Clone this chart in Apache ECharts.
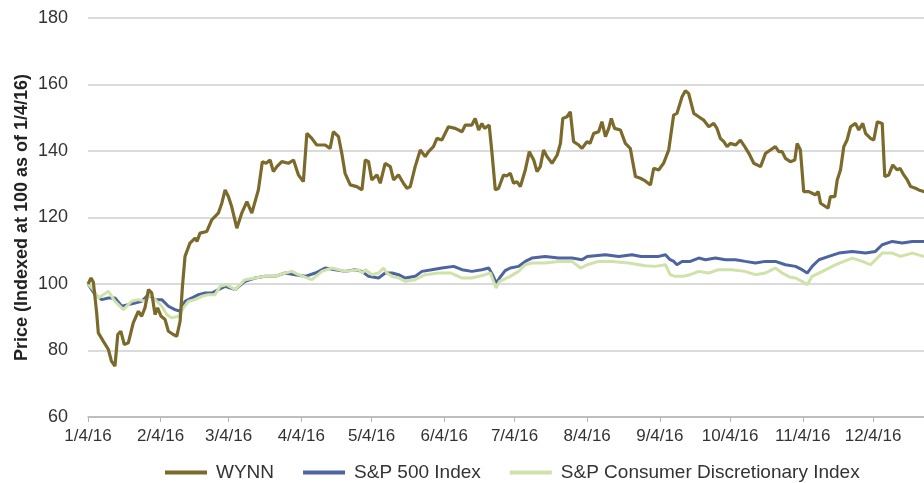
<!DOCTYPE html>
<html>
<head>
<meta charset="utf-8">
<script src="https://cdn.jsdelivr.net/npm/echarts@6/dist/echarts.min.js"></script>
<style>
  html, body { margin: 0; padding: 0; background: #fff; }
  #chart { width: 924px; height: 483px; }
</style>
</head>
<body>
<div id="chart"></div>
<script>
// x positions are days counted from 1/4/16
const lastDay = 361;
const tickDays = [0, 31, 60, 91, 121, 152, 182, 213, 244, 274, 305, 335];
const tickLabels = ['1/4/16', '2/4/16', '3/4/16', '4/4/16', '5/4/16', '6/4/16',
  '7/4/16', '8/4/16', '9/4/16', '10/4/16', '11/4/16', '12/4/16'];

const wynnDays = [0, 1.3, 2.3, 3.7, 4.4, 6.5, 8.7, 10, 11.5, 12.7, 14, 15.5, 17.2, 19.3, 21.5, 22.9, 24.3, 25.8,
  27.2, 28.6, 29.7, 31.2, 32.9, 34.3, 36.4, 37.9, 39.3, 40.3, 41.4, 43.5, 45.7, 46.5, 47.8, 50.7, 52.8, 55.6,
  57.1, 58.5, 59.9, 61.3, 63.5, 65.6, 67.8, 69.9, 72.7, 74.4, 76, 77.7, 79.1, 80.6, 82.7, 85.5, 87.7, 89.8,
  91.9, 93.4, 95.5, 97.6, 101.2, 103.3, 104.7, 106.9, 108.3, 109.7, 111.9, 114.7, 116.9, 118.3, 119.7, 121.1,
  123.3, 124.7, 126.8, 129, 130.4, 132.5, 134.6, 136.1, 137.5, 139.6, 141.8, 143.9, 145.3, 147.4, 148.9, 151,
  153.8, 156.7, 159.6, 161, 163.8, 165.2, 166.7, 168.1, 169.2, 171.2, 172.4, 173.8, 175.2, 177.3, 178.6, 180.2,
  181.6, 183, 184.5, 186.6, 188.3, 190.2, 191.6, 193, 194.4, 195.9, 198, 200.2, 201.6, 202.6, 204.4, 205.8,
  207.2, 209.4, 210.8, 212.9, 214.2, 215.8, 217.9, 219.3, 220.8, 222.2, 223.3, 224.7, 227.2, 229.3, 231.4,
  233.6, 235.7, 237.8, 240, 241.4, 243.5, 245.6, 247.8, 249.9, 251.3, 253.5, 254.9, 256.3, 258.5, 260.6, 262.7,
  264.9, 267, 268.4, 269.8, 271.3, 272.7, 274.1, 276.3, 278.4, 279.8, 282, 284.1, 287, 289.1, 291.2, 293.3,
  294.8, 296.2, 297.6, 299.7, 301.6, 302.6, 304, 305.4, 307.6, 309, 310.4, 311.6, 312.6, 314.7, 315.8, 316.8,
  318.7, 319.7, 321.1, 322.5, 323.9, 325.4, 327.5, 328.9, 330.6, 331.8, 333.9, 335.3, 336.8, 338.9, 340, 341.7,
  343.4, 345.3, 346.5, 348.1, 349.6, 351, 353.1, 354.5, 356.6, 361];
const wynnValues = [100, 101.8, 100.5, 91.3, 85.3, 82.8, 80.3, 76.8, 75.3, 84.8, 85.8, 81.8, 82.3, 88.3, 91.8,
  90.3, 92.8, 98.3, 97.3, 90.8, 92.8, 90.3, 89.3, 85.8, 84.8, 84.3, 88.8, 99.3, 108.3, 112.3, 113.8, 112.8,
  115.3, 115.8, 119.3, 121.3, 124.3, 128.3, 126.3, 123.3, 116.8, 121.3, 124.8, 121.3, 128.3, 136.8, 136.3,
  137.3, 133.8, 135.3, 136.8, 136.3, 137.3, 132.8, 130.8, 145.3, 143.8, 141.8, 141.8, 140.8, 145.8, 144.3,
  139.3, 133.3, 129.8, 129.3, 128.3, 137.3, 136.8, 131.3, 132.8, 130.3, 136.3, 135.3, 131.3, 132.8, 130.3,
  128.8, 129.3, 135.3, 140.3, 138.3, 139.8, 141.3, 143.8, 143.3, 147.3, 146.8, 145.8, 147.8, 147.8, 149.8,
  146.3, 148.3, 146.8, 147.8, 139.3, 128.3, 128.8, 132.8, 132.5, 133.3, 130.3, 130.8, 129.3, 134.3, 139.8,
  137.3, 133.8, 135.3, 140.3, 138.3, 136.3, 138.8, 142.3, 149.8, 150.3, 151.8, 142.8, 141.8, 140.8, 142.8,
  142.3, 145.3, 145.8, 148.8, 144.3, 146.8, 149.8, 146.8, 146.3, 142.3, 140.8, 132.3, 131.8, 131, 129.8,
  134.8, 134.3, 136.3, 140.3, 150.8, 151.3, 156.3, 158.1, 157.3, 151.3, 150.3, 149.3, 147.3, 148.3, 146.8,
  143.8, 142.8, 141.3, 142.3, 141.8, 143.3, 141.8, 139.3, 136.3, 135.3, 139.3, 140.3, 141.3, 139.8, 139.8,
  137.8, 136.8, 137.3, 142.3, 140.3, 127.8, 127.8, 127.3, 126.8, 127.8, 124.3, 123.3, 122.8, 126.3, 126.3,
  131.3, 134.3, 141.3, 143.3, 147.3, 148.3, 146.3, 148.3, 145.3, 143.8, 143.3, 148.8, 148.3, 132.3, 132.8,
  135.8, 134.3, 134.8, 132.8, 131.3, 129.3, 128.8, 128.3, 127.8, 128];

const spxDays = [0, 3, 5.8, 8.7, 11.5, 14.4, 17.2, 20, 22.9, 25.8, 28.6, 31.5, 34.3, 37.1, 39.3, 41.4, 44.3,
  47.1, 50, 52.8, 55.6, 58.5, 62.8, 67, 71.3, 75.6, 79.8, 84.1, 88.4, 92.7, 97, 101.2, 105.5, 109.7, 114,
  116.9, 119.7, 124, 126.8, 129.7, 132.5, 135.4, 139.6, 142.5, 146.7, 151, 156, 159.6, 163.8, 168.1, 171,
  172.6, 174.2, 175.6, 178, 180.2, 183.7, 186.6, 189.4, 195.1, 200.8, 206.5, 210.8, 213, 220.8, 226.5, 232.1,
  236, 240, 243.5, 246.4, 248.4, 250, 251.3, 253.5, 257, 260.6, 263.5, 267.7, 272, 276.3, 280.5, 284.8, 289,
  293.3, 297.6, 301.9, 304.7, 306.9, 309, 311.9, 316.1, 320.4, 326.1, 331.8, 336, 338.9, 343.2, 347.5, 351.7,
  356.6, 361];
const spxValues = [100, 96.8, 95.3, 95.8, 95.8, 93.3, 93.8, 94.3, 94.8, 96.8, 95.3, 95.3, 93.3, 92.3, 91.8,
  94.8, 95.8, 96.8, 97.3, 97.3, 98.3, 99.3, 98.3, 100.8, 101.8, 102.3, 102.3, 103.3, 102.8, 102.3, 103.3,
  104.8, 104.3, 103.8, 104.3, 103.8, 102.3, 101.8, 103.3, 103.3, 102.8, 101.8, 102.3, 103.8, 104.3, 104.8,
  105.3, 104.3, 103.8, 104.3, 104.8, 102.8, 100.3, 101.8, 104, 104.8, 105.3, 106.8, 107.8, 108.3, 107.8,
  107.8, 107.3, 108.3, 108.8, 108.3, 108.8, 108.3, 108.3, 108.3, 108.8, 107.3, 106.8, 105.8, 106.8, 106.8,
  107.8, 107.3, 107.8, 107.3, 107.3, 106.8, 106.3, 106.8, 106.8, 105.8, 105.3, 104.3, 103.3, 105.3, 107.3,
  108.3, 109.3, 109.8, 109.3, 109.8, 111.8, 112.8, 112.3, 112.8, 112.8, 112.5];

const discDays = [0, 2.3, 4.4, 6.5, 8.7, 11.5, 15.1, 18.6, 21.5, 24.4, 26.5, 28.6, 31.5, 33.6, 35.7, 38.6,
  40.7, 42.9, 45.7, 48.6, 51.4, 54.2, 56.4, 59.2, 62.8, 67, 71.3, 75.6, 79.8, 84.1, 87, 89.8, 95.5, 99.8, 104,
  109.7, 115.4, 117, 118.5, 121.1, 124, 126.1, 127.5, 129.7, 132.5, 135.4, 139.6, 143.9, 149.6, 155, 159.6,
  163.8, 169.5, 171.7, 174.1, 175.6, 177.8, 180.2, 183.7, 186.6, 189.4, 195.1, 200.8, 206.5, 210.2, 213,
  217.9, 223.6, 230.7, 237.8, 242, 246.4, 248.4, 250.5, 253.5, 257, 260.6, 264.9, 269.1, 274.8, 280.3, 284.8,
  289, 293.3, 296.2, 299.7, 301.9, 304.7, 306.9, 309, 313.4, 319.1, 326.1, 330.4, 333.9, 338.9, 343.2, 346.7,
  351.7, 356.6, 361];
const discValues = [100, 98.3, 95.8, 96.8, 97.8, 94.8, 92.3, 94.8, 95.3, 94.8, 96.8, 95.3, 93.3, 90.8, 89.8,
  90.3, 92.8, 94.8, 95.3, 96.3, 96.8, 96.8, 99.3, 99.8, 98.3, 101.3, 101.8, 102.3, 102.3, 103.3, 103.8, 102.8,
  101.3, 103.8, 104.8, 103.8, 104.3, 103.3, 104.3, 102.8, 103.3, 104.8, 103.3, 102.3, 101.8, 100.8, 101.3,
  102.8, 103.3, 103.3, 101.8, 101.8, 102.8, 103.3, 98.8, 100.8, 101.5, 102.3, 103.8, 105.8, 106.3, 106.3,
  106.8, 106.8, 104.8, 105.8, 106.8, 106.8, 106.3, 105.5, 105.3, 105.8, 102.8, 102.3, 102.3, 102.8, 103.8,
  103.3, 104.3, 104.3, 103.8, 102.8, 103.3, 104.8, 103.3, 102, 101.8, 100.8, 99.8, 102.3, 103.8, 105.8, 107.8,
  106.8, 105.8, 109.3, 109.3, 108.3, 109.3, 108.3, 108.3];

const toPoints = (days, values) => days.map((d, i) => [d, values[i]]);

const chart = echarts.init(document.getElementById('chart'));

const font = '"Liberation Sans", Arial, sans-serif';

chart.setOption({
  animation: false,
  backgroundColor: '#fff',
  grid: {
    left: 88,
    right: -10,
    top: 18,
    bottom: 66,
    outerBoundsMode: 'none'
  },
  legend: {
    left: 160,
    top: 458,
    icon: 'rect',
    itemWidth: 42,
    itemHeight: 4,
    itemGap: 29,
    textStyle: { fontFamily: font, fontSize: 19, color: '#333', padding: [0, 0, 0, 4] },
    data: ['WYNN', 'S&P 500 Index', 'S&P Consumer Discretionary Index']
  },
  xAxis: {
    type: 'value',
    min: 0,
    max: lastDay,
    axisLine: { show: true, lineStyle: { color: '#b5b5b5', width: 1.5 } },
    axisTick: { show: true, length: 5, customValues: tickDays, lineStyle: { color: '#b5b5b5' } },
    splitLine: { show: false },
    axisLabel: {
      customValues: tickDays,
      margin: 11,
      fontFamily: font,
      fontSize: 17,
      color: '#333',
      formatter: function (v) {
        const i = tickDays.indexOf(v);
        return i >= 0 ? tickLabels[i] : '';
      }
    }
  },
  yAxis: {
    type: 'value',
    min: 60,
    max: 180,
    interval: 20,
    name: 'Price (Indexed at 100 as of 1/4/16)',
    nameLocation: 'middle',
    nameGap: 57,
    nameMoveOverlap: false,
    nameTextStyle: { fontFamily: font, fontSize: 18, fontWeight: 'bold', color: '#222' },
    axisLine: { show: false },
    axisTick: { show: false },
    axisLabel: { margin: 20, fontFamily: font, fontSize: 18, color: '#333' },
    splitLine: { lineStyle: { color: '#cfcfcf', width: 1.5 } }
  },
  series: [
    {
      name: 'WYNN',
      type: 'line',
      z: 4,
      showSymbol: false,
      data: toPoints(wynnDays, wynnValues),
      itemStyle: { color: '#7b6a2b' },
      lineStyle: { color: '#7b6a2b', width: 3.2 }
    },
    {
      name: 'S&P 500 Index',
      type: 'line',
      z: 2,
      showSymbol: false,
      data: toPoints(spxDays, spxValues),
      itemStyle: { color: '#4d64a0' },
      lineStyle: { color: '#4d64a0', width: 3 }
    },
    {
      name: 'S&P Consumer Discretionary Index',
      type: 'line',
      z: 3,
      showSymbol: false,
      data: toPoints(discDays, discValues),
      itemStyle: { color: '#cfe2aa' },
      lineStyle: { color: '#cfe2aa', width: 3 }
    }
  ]
});
</script>
</body>
</html>
